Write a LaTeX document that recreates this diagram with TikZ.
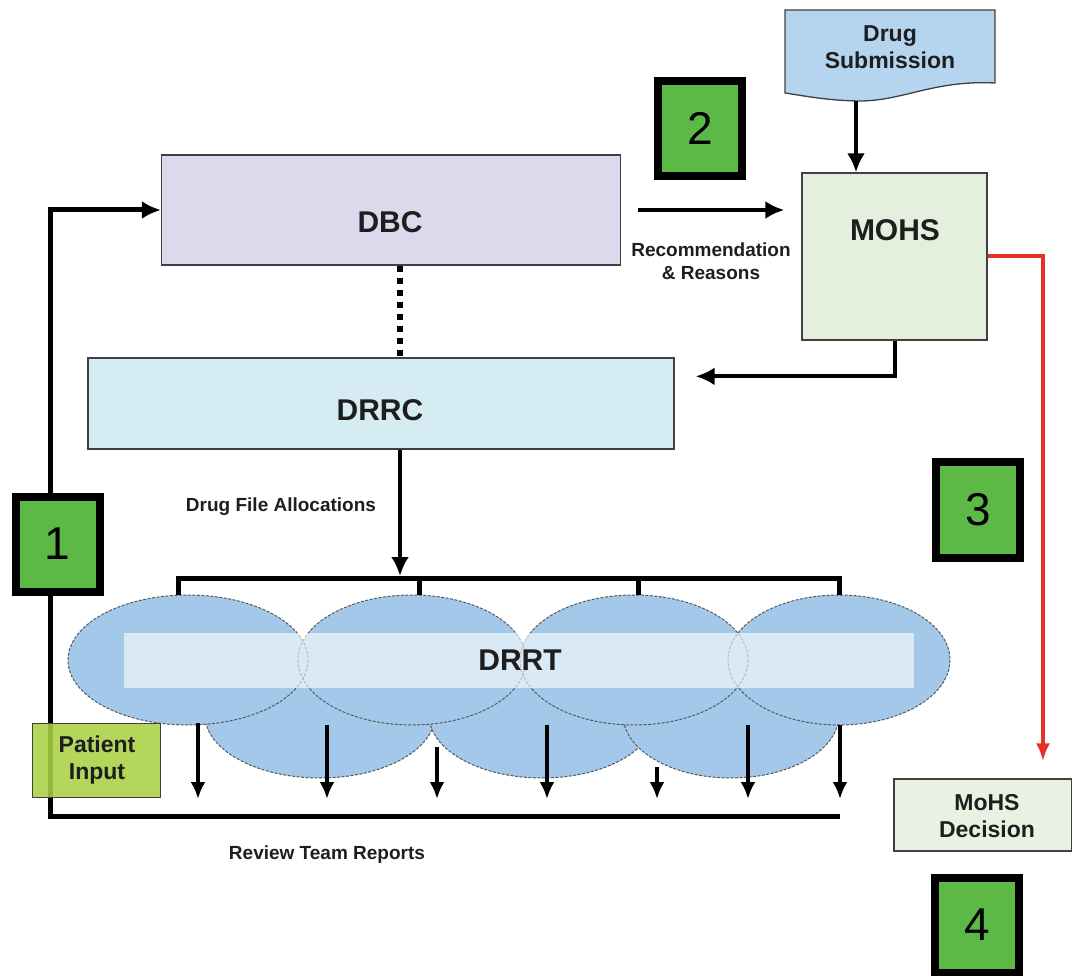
\documentclass[tikz,border=0pt]{standalone}
\usepackage{fontspec}
\setmainfont{Liberation Sans}
\usetikzlibrary{arrows.meta,shapes.geometric,calc}
\definecolor{dbcfill}{HTML}{DDD8EC}
\definecolor{drrcfill}{HTML}{D4ECF2}
\definecolor{mohsfill}{HTML}{E5EFDD}
\definecolor{decfill}{HTML}{E9F1E2}
\definecolor{subfill}{HTML}{B5D4EF}
\definecolor{ellfill}{HTML}{A3C8EA}
\definecolor{numgreen}{HTML}{5CB945}
\definecolor{patfill}{HTML}{A9D044}
\definecolor{redline}{HTML}{E8302A}
\definecolor{txt}{HTML}{1E1E1E}
\begin{document}
\begin{tikzpicture}[x=1pt,y=-1pt,
  box/.style={draw=black!75, line width=1.3pt, inner sep=0pt},
  numbox/.style={draw=black, line width=8pt, fill=numgreen, minimum width=84pt, minimum height=95pt, inner sep=0pt, font=\fontsize{46}{50}\selectfont},
  blobline/.style={draw=black!65, line width=1pt, dash pattern=on 3pt off 1.5pt},
  blob/.style={ellipse, blobline, fill=ellfill, inner sep=0pt},
  blobfill/.style={ellipse, fill=ellfill, inner sep=0pt},
  arr/.style={line width=4pt, -{Latex[length=19pt,width=18pt]}},
  smallarr/.style={line width=4pt, -{Latex[length=17pt,width=15pt]}},
  redarr/.style={line width=4pt, draw=redline, -{Latex[length=18pt,width=14pt]}, redline},
  bus/.style={line width=5pt},
  bigtxt/.style={font=\bfseries\fontsize{30}{34}\selectfont, text=txt},
  midtxt/.style={font=\bfseries\fontsize{23}{27}\selectfont, text=txt, align=center},
  smalltxt/.style={font=\bfseries\fontsize{19}{23}\selectfont, text=txt, align=center}
]
\useasboundingbox (0,0) rectangle (1072,976);

% Drug Submission document shape
\draw[box, fill=subfill] (785,10) -- (995,10) -- (995,83)
  .. controls (935,80) and (905,100) .. (862,101)
  .. controls (830,101) and (805,96) .. (785,93) -- cycle;
\node[midtxt] (sub) at (890,47) {Drug\\Submission};
\coordinate (dsb) at (856,101);

% Main boxes
\node[box, fill=dbcfill, minimum width=459pt, minimum height=110pt] (dbc) at (391,210) {};
\node[bigtxt] (dbct) at (390,222) {DBC};
\node[box, fill=mohsfill, minimum width=185pt, minimum height=167pt] (mohs) at (894.5,256.5) {};
\node[bigtxt] (mohst) at (895,230) {MOHS};
\node[box, fill=drrcfill, minimum width=586pt, minimum height=91pt] (drrc) at (381,403.5) {};
\node[bigtxt] (drrct) at (380,410) {DRRC};
\node[box, fill=decfill, minimum width=178pt, minimum height=72pt] (dec) at (983,815) {};
\node[midtxt] (dect) at (987,816) {MoHS\\Decision};

% Number boxes
\node[numbox] (n2) at (700,128.5) {2};
\node[numbox] (n3) at (978,510) {3};
\node[numbox] (n4) at (977,925) {4};

% Connectors top
\draw[arr] (dsb) -- (dsb |- mohs.north);
\draw[arr, shorten <=17pt, shorten >=17pt] (dbc.east) -- (dbc.east -| mohs.west);
\node[smalltxt] (rec) at (711,261) {Recommendation\\\& Reasons};
\draw[arr] (mohs.south) |- ([xshift=21pt,yshift=-19pt]drrc.north east);
\draw[redarr] (mohs.east) -| ([xshift=60pt,yshift=17pt]dec.north);
\draw[line width=6pt, dash pattern=on 6pt off 6pt] ([xshift=9pt]dbc.south) -- ([xshift=9pt]dbc.south |- drrc.north);

% DRRT ellipses: back row, then front row fills, then front row outlines
\node[blob, minimum width=230pt, minimum height=126pt] (b1) at (320,715) {};
\node[blob, minimum width=226pt, minimum height=126pt] (b2) at (542,715) {};
\node[blob, minimum width=216pt, minimum height=126pt] (b3) at (731,715) {};
\node[blobfill, minimum width=240pt, minimum height=130pt] (t1) at (188,660) {};
\node[blobfill, minimum width=228pt, minimum height=130pt] (t2) at (412,660) {};
\node[blobfill, minimum width=228pt, minimum height=130pt] (t3) at (634,660) {};
\node[blobfill, minimum width=222pt, minimum height=130pt] (t4) at (839,660) {};
\draw[blobline] (t1.center) ellipse [x radius=120, y radius=65];
\draw[blobline] (t2.center) ellipse [x radius=114, y radius=65];
\draw[blobline] (t3.center) ellipse [x radius=114, y radius=65];
\draw[blobline] (t4.center) ellipse [x radius=111, y radius=65];
\node[fill=white, fill opacity=0.6, minimum width=790pt, minimum height=55pt, inner sep=0pt] (band) at (519,660.5) {};
\node[bigtxt] (drrt) at (520,660) {DRRT};

% allocation bus
\coordinate (busL) at (178,578);
\coordinate (busA) at (419,578);
\coordinate (busB) at (638,578);
\coordinate (busR) at (839,578);
\coordinate (alloc) at (400,576);
\draw[bus] (busL |- t1.north) -- (busL) -- (busR) -- (busR |- t4.north);
\draw[bus] (busA) -- (busA |- t2.north);
\draw[bus] (busB) -- (busB |- t3.north);
\draw[arr] ([xshift=19pt]drrc.south) -- (alloc);
\node[smalltxt] (alloct) at (281,507) {Drug File Allocations};

% report arrows
\foreach \x/\s [count=\i] in {198/723, 327/725, 437/747, 547/725, 657/767, 748/725, 840/725}{
  \coordinate (rs\i) at (\x,\s);
  \coordinate (re\i) at (\x,799);
  \draw[smallarr] (rs\i) -- (re\i);
}

% review bus and feedback to DBC
\coordinate (rb) at (840,816);
\coordinate (lb) at (50,816);
\draw[arr, line width=5pt] (rb) -- (lb) |- (dbc.west);
\node[smalltxt] (rev) at (327,855) {Review Team Reports};

\node[box, fill=patfill, fill opacity=0.88, minimum width=128pt, minimum height=74pt] (pat) at (96.5,760.5) {};
\node[midtxt] (patt) at (97,760) {Patient\\Input};
\node[numbox] (n1) at (57.5,544) {1};
\end{tikzpicture}
\end{document}
